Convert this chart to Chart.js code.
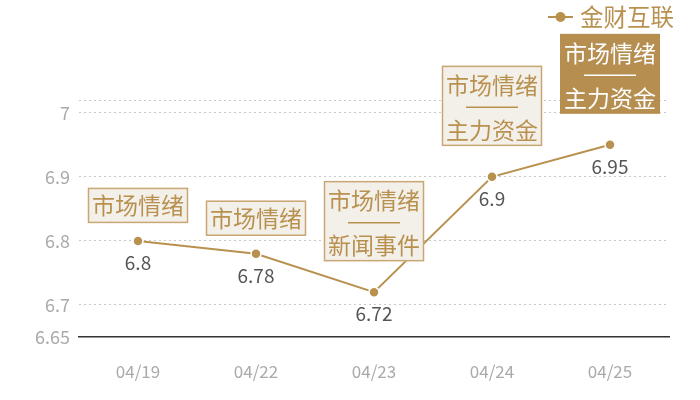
<!DOCTYPE html>
<html>
<head>
<meta charset="utf-8">
<script src="https://cdn.jsdelivr.net/npm/chart.js@4"></script>
<style>
  html, body { margin: 0; padding: 0; background: #fff; }
  #wrap { width: 700px; height: 400px; }
</style>
</head>
<body>
<div id="wrap"><canvas id="chart"></canvas></div>
<script>
const dates = ["04/19", "04/22", "04/23", "04/24", "04/25"];
const prices = [6.8, 6.78, 6.72, 6.9, 6.95];
const tags = [
  ["市场情绪"],
  ["市场情绪"],
  ["市场情绪", "新闻事件"],
  ["市场情绪", "主力资金"],
  ["市场情绪", "主力资金"]
];
const highlight = [false, false, false, false, true];
const yTicks = [6.65, 6.7, 6.8, 6.9, 7, 7.02];
const seriesName = "金财互联";

const gold = "#b8914f";
const font = "'Noto Sans CJK SC', 'Noto Sans', sans-serif";

// boxes above the points, values below, legend top right
const labelPlugin = {
  id: "labels",
  afterDatasetsDraw(chart) {
    const ctx = chart.ctx;
    const meta = chart.getDatasetMeta(0);
    ctx.save();
    ctx.textAlign = "center";
    ctx.textBaseline = "middle";
    meta.data.forEach((pt, i) => {
      const x = pt.x, y = pt.y;
      // value
      ctx.font = "19px " + font;
      ctx.fillStyle = "#555";
      ctx.fillText(String(prices[i]), x, y + 22);

      // tag box
      const two = tags[i].length > 1;
      const h = two ? 80 : 35;
      const gap = two ? 31 : 18;
      const w = 100;
      const top = y - gap - h;
      const left = x - w / 2;
      if (highlight[i]) {
        ctx.fillStyle = "#b58e50";
        ctx.fillRect(left, top, w, h);
      } else {
        ctx.fillStyle = "#f3efe9";
        ctx.fillRect(left, top, w, h);
        ctx.strokeStyle = "#c9a774";
        ctx.lineWidth = 1.5;
        ctx.strokeRect(left + 0.5, top + 0.5, w - 1, h - 1);
      }
      const c = highlight[i] ? "#fff" : gold;
      ctx.fillStyle = c;
      ctx.font = "23px " + font;
      if (two) {
        ctx.fillText(tags[i][0], x, top + 19);
        ctx.strokeStyle = c;
        ctx.lineWidth = 1.5;
        ctx.beginPath();
        ctx.moveTo(x - 26, top + 41.5);
        ctx.lineTo(x + 26, top + 41.5);
        ctx.stroke();
        ctx.fillText(tags[i][1], x, top + 64);
      } else {
        ctx.fillText(tags[i][0], x, top + h / 2);
      }
    });

    // legend
    ctx.strokeStyle = gold;
    ctx.lineWidth = 2;
    ctx.beginPath();
    ctx.moveTo(548, 17);
    ctx.lineTo(573, 17);
    ctx.stroke();
    ctx.fillStyle = gold;
    ctx.beginPath();
    ctx.arc(560.5, 17, 5, 0, Math.PI * 2);
    ctx.fill();
    ctx.font = "23.5px " + font;
    ctx.textAlign = "left";
    ctx.fillText(seriesName, 580, 17);
    ctx.restore();
  }
};

new Chart("chart", {
  type: "line",
  data: {
    labels: dates,
    datasets: [{
      label: seriesName,
      data: prices,
      borderColor: gold,
      backgroundColor: gold,
      borderWidth: 2,
      pointRadius: 5,
      pointBorderColor: "#fff",
      pointBorderWidth: 1.5,
      pointHoverRadius: 5,
      tension: 0
    }]
  },
  options: {
    responsive: true,
    maintainAspectRatio: false,
    animation: false,
    events: [],
    layout: { padding: { top: 100, right: 31, left: 0, bottom: 0 } },
    plugins: {
      legend: { display: false },
      tooltip: { enabled: false }
    },
    scales: {
      x: {
        offset: true,
        grid: { display: false, drawTicks: false },
        border: { display: true, color: "#333", width: 1.5 },
        ticks: { color: "#aaa", font: { family: font, size: 17 }, padding: 24 },
        afterFit(s) { s.height = 63; }
      },
      y: {
        min: 6.65,
        max: 7.02,
        afterBuildTicks(s) { s.ticks = yTicks.map(v => ({ value: v })); },
        grid: {
          color: c => c.tick && c.tick.value === 6.65 ? "rgba(0,0,0,0)" : "#c8c8c8",
          drawTicks: false,
          lineWidth: 1
        },
        border: { display: false, dash: [2, 3] },
        ticks: {
          color: "#aaa",
          font: { family: font, size: 18 },
          padding: 9,
          callback: v => v === 7.02 ? "" : String(v)
        },
        afterFit(s) { s.width = 79; }
      }
    }
  },
  plugins: [labelPlugin]
});
</script>
</body>
</html>
